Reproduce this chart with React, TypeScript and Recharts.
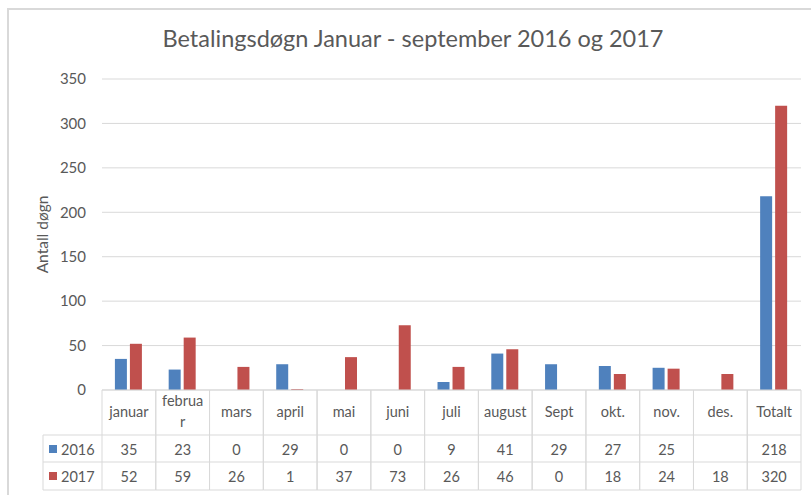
import { BarChart, Bar, XAxis, YAxis, CartesianGrid } from 'recharts'

const months = ['januar', 'februar', 'mars', 'april', 'mai', 'juni', 'juli', 'august', 'Sept', 'okt.', 'nov.', 'des.', 'Totalt']
const days2016: (number | null)[] = [35, 23, 0, 29, 0, 0, 9, 41, 29, 27, 25, null, 218]
const days2017: (number | null)[] = [52, 59, 26, 1, 37, 73, 26, 46, 0, 18, 24, 18, 320]
const seriesNames = ['2016', '2017']
const yTicks = [0, 50, 100, 150, 200, 250, 300, 350]

const data = months.map((m, i) => ({ month: m, y2016: days2016[i], y2017: days2017[i] }))

const BLUE = '#4F81BD'
const RED = '#C0504D'
const LINE = '#d9d9d9'
const TEXT = '#595959'
const FONT = 'Lato, "Open Sans", sans-serif'

const W = 811
const H = 495
const TOP = 79
const AXIS_H = 100
const LEFT_W = 102
const RIGHT = 10
const BOTTOM = 5
const PLOT_BOTTOM = H - BOTTOM - AXIS_H // 390
const ROW1 = 435
const ROW2 = 462
const ROW3 = 490
const LEGEND_X = 43

function TableTick(props: any) {
  const { x, index, payload } = props
  const bw = (W - LEFT_W - RIGHT) / months.length
  const l = x - bw / 2
  const r = x + bw / 2
  const label: string = payload.value
  const lines = label.length > 6 ? [label.slice(0, 6), label.slice(6)] : [label]
  const v16 = days2016[index]
  const v17 = days2017[index]
  const txt = { fill: TEXT, fontSize: 14.5, fontFamily: FONT, textAnchor: 'middle' as const, dominantBaseline: 'central' as const }
  return (
    <g>
      <line x1={l} x2={l} y1={PLOT_BOTTOM} y2={ROW3} stroke={LINE} />
      <line x1={r} x2={r} y1={PLOT_BOTTOM} y2={ROW3} stroke={LINE} />
      <line x1={l} x2={r} y1={ROW1} y2={ROW1} stroke={LINE} />
      <line x1={l} x2={r} y1={ROW2} y2={ROW2} stroke={LINE} />
      <line x1={l} x2={r} y1={ROW3} y2={ROW3} stroke={LINE} />
      {lines.length === 1 ? (
        <text x={x} y={411} {...txt}>{lines[0]}</text>
      ) : (
        <>
          <text x={x} y={400} {...txt}>{lines[0]}</text>
          <text x={x} y={421} {...txt}>{lines[1]}</text>
        </>
      )}
      <text x={x} y={449} {...txt}>{v16 === null ? '' : v16}</text>
      <text x={x} y={476} {...txt}>{v17 === null ? '' : v17}</text>
      {index === 0 && (
        <g>
          <line x1={LEGEND_X} x2={l} y1={ROW1} y2={ROW1} stroke={LINE} />
          <line x1={LEGEND_X} x2={l} y1={ROW2} y2={ROW2} stroke={LINE} />
          <line x1={LEGEND_X} x2={l} y1={ROW3} y2={ROW3} stroke={LINE} />
          <line x1={LEGEND_X} x2={LEGEND_X} y1={ROW1} y2={ROW3} stroke={LINE} />
          {seriesNames.map((s, i) => (
            <g key={s}>
              <rect x={49} y={(i === 0 ? 449 : 476) - 4} width={8} height={8} fill={i === 0 ? BLUE : RED} />
              <text x={61} y={i === 0 ? 449 : 476} {...txt} textAnchor="start">{s}</text>
            </g>
          ))}
        </g>
      )}
    </g>
  )
}

export default function App() {
  return (
    <div style={{ position: 'absolute', left: 0, top: 0, width: W, height: H, background: '#fff', overflow: 'hidden' }}>
      <div style={{ position: 'absolute', left: 7, top: 8, width: W, height: H, borderLeft: `2px solid ${LINE}`, borderTop: `2px solid ${LINE}` }} />
      <div style={{ position: 'absolute', left: 0, top: 24, width: 826, textAlign: 'center', fontFamily: FONT, fontSize: 23.5, color: TEXT }}>
        Betalingsdøgn Januar - september 2016 og 2017
      </div>
      <div style={{ position: 'absolute', left: 0, top: 0 }}>
        <BarChart
          width={W}
          height={H}
          data={data}
          margin={{ top: TOP, right: RIGHT, bottom: BOTTOM, left: 0 }}
          barCategoryGap="24%"
          barGap={3}
        >
          <CartesianGrid vertical={false} stroke={LINE} />
          <XAxis
            dataKey="month"
            height={AXIS_H}
            interval={0}
            tickLine={false}
            axisLine={{ stroke: LINE }}
            tick={<TableTick />}
          />
          <YAxis
            width={LEFT_W}
            domain={[0, 350]}
            ticks={yTicks}
            axisLine={false}
            tickLine={false}
            tickSize={6}
            tickMargin={10}
            tick={{ fill: TEXT, fontSize: 15, fontFamily: FONT }}
            label={{ value: 'Antall døgn', angle: -90, position: 'insideLeft', offset: 42, fill: TEXT, fontSize: 15.5, fontFamily: FONT, style: { textAnchor: 'middle' } }}
          />
          <Bar dataKey="y2016" name={seriesNames[0]} fill={BLUE} isAnimationActive={false} />
          <Bar dataKey="y2017" name={seriesNames[1]} fill={RED} isAnimationActive={false} />
        </BarChart>
      </div>
    </div>
  )
}
